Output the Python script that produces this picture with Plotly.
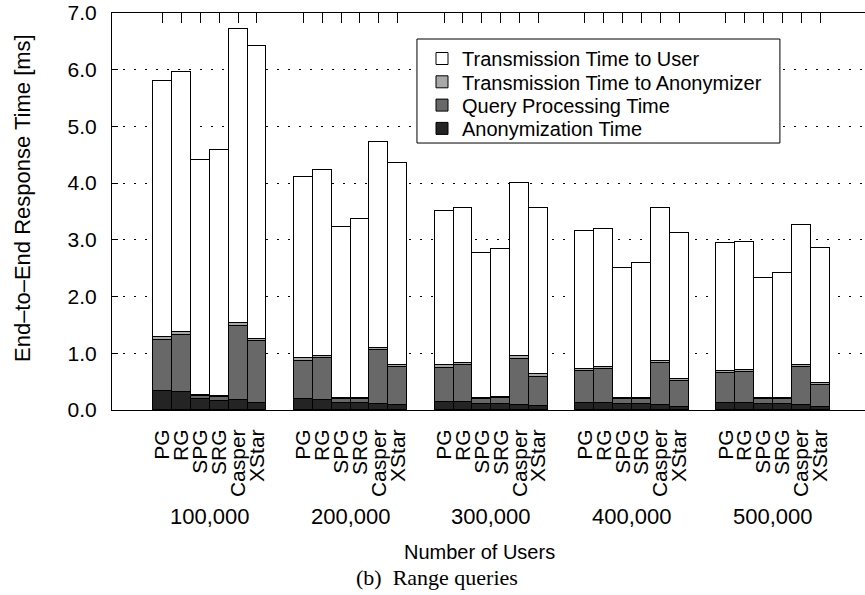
import plotly.graph_objects as go

# ---- data ----
methods = ["PG", "RG", "SPG", "SRG", "Casper", "XStar"]
user_counts = ["100,000", "200,000", "300,000", "400,000", "500,000"]

anonymization_time = [
    [0.34, 0.32, 0.19, 0.15, 0.18, 0.12],
    [0.19, 0.18, 0.12, 0.12, 0.11, 0.08],
    [0.14, 0.14, 0.11, 0.11, 0.09, 0.07],
    [0.12, 0.12, 0.11, 0.11, 0.08, 0.06],
    [0.12, 0.12, 0.11, 0.11, 0.08, 0.06],
]
query_processing_time = [
    [0.89, 1.00, 0.06, 0.08, 1.31, 1.10],
    [0.68, 0.73, 0.08, 0.08, 0.95, 0.67],
    [0.60, 0.65, 0.09, 0.10, 0.81, 0.52],
    [0.56, 0.60, 0.09, 0.09, 0.74, 0.45],
    [0.53, 0.55, 0.08, 0.08, 0.67, 0.38],
]
trans_to_anonymizer = [
    [0.05, 0.05, 0.02, 0.02, 0.04, 0.04],
    [0.04, 0.05, 0.02, 0.02, 0.04, 0.05],
    [0.05, 0.03, 0.02, 0.02, 0.05, 0.04],
    [0.04, 0.03, 0.02, 0.02, 0.04, 0.04],
    [0.04, 0.04, 0.02, 0.02, 0.04, 0.04],
]
trans_to_user = [
    [4.52, 4.59, 4.13, 4.34, 5.19, 5.15],
    [3.20, 3.27, 3.00, 3.15, 3.63, 3.56],
    [2.72, 2.74, 2.54, 2.61, 3.05, 2.93],
    [2.44, 2.45, 2.28, 2.38, 2.71, 2.57],
    [2.25, 2.26, 2.11, 2.21, 2.48, 2.37],
]

# ---- layout helpers ----
GROUP_STEP = 7.45
xpos = [g * GROUP_STEP + i for g in range(len(user_counts)) for i in range(len(methods))]
tick_text = [m for _ in user_counts for m in methods]
group_centers = [g * GROUP_STEP + (len(methods) - 1) / 2 for g in range(len(user_counts))]


def flat(series):
    return [v for grp in series for v in grp]


FONT = "Liberation Sans, Arial, sans-serif"
SERIF = "Liberation Serif, Times New Roman, serif"

# stacked bottom -> top; legend rows listed top -> bottom
series = [
    ("Anonymization Time", anonymization_time, "#242424", "legend4"),
    ("Query Processing Time", query_processing_time, "#686868", "legend3"),
    ("Transmission Time to Anonymizer", trans_to_anonymizer, "#a8a8a8", "legend2"),
    ("Transmission Time to User", trans_to_user, "#ffffff", "legend"),
]

fig = go.Figure()
for name, vals, color, leg in series:
    fig.add_trace(go.Bar(
        x=xpos, y=flat(vals), name=name, width=1.0, legend=leg,
        marker=dict(color=color, line=dict(color="#000000", width=1)),
    ))

annotations = []
for c, lab in zip(group_centers, user_counts):
    annotations.append(dict(x=c, y=-0.2695, xref="x", yref="paper", text=lab,
                            showarrow=False, yanchor="middle",
                            font=dict(family=FONT, size=22, color="black")))
annotations.append(dict(x=0.4887, y=-0.3577, xref="paper", yref="paper",
                        text="Number of Users", showarrow=False, yanchor="middle",
                        font=dict(family=FONT, size=20, color="black")))
annotations.append(dict(x=0.432, y=-0.423, xref="paper", yref="paper",
                        text="(b)  Range queries", showarrow=False, yanchor="middle",
                        font=dict(family=SERIF, size=22, color="black")))
annotations.append(dict(x=-0.1195, y=0.534, xref="paper", yref="paper",
                        text="End–to–End Response Time [ms]", textangle=-90,
                        showarrow=False, xanchor="center", yanchor="middle",
                        font=dict(family=FONT, size=22, color="black")))

# legend frame (white box with black border)
shapes = [dict(type="rect", xref="paper", yref="paper",
               x0=0.405, x1=0.887, y0=0.6725, y1=0.9345,
               fillcolor="white", line=dict(color="black", width=1), layer="above")]

legend_rows_px = [58.5, 81.8, 105.1, 128.4]
plot_top, plot_h = 13, 397


def leg(row_px):
    return dict(x=0.4117, y=1 - (row_px - plot_top) / plot_h, xanchor="left",
                yanchor="middle", bgcolor="rgba(0,0,0,0)", borderwidth=0,
                font=dict(family=FONT, size=20, color="black"))


fig.update_layout(
    width=865, height=595,
    margin=dict(l=112, r=0, t=13, b=185, pad=0),
    barmode="stack", bargap=0,
    plot_bgcolor="white", paper_bgcolor="white",
    font=dict(family=FONT, size=20, color="black"),
    showlegend=True,
    legend=leg(legend_rows_px[0]),
    legend2=leg(legend_rows_px[1]),
    legend3=leg(legend_rows_px[2]),
    legend4=leg(legend_rows_px[3]),
    annotations=annotations,
    shapes=shapes,
)
fig.update_xaxes(
    range=[-2.67, 37.17], tickmode="array", tickvals=xpos, ticktext=tick_text,
    tickangle=-90, ticks="inside", ticklen=10, tickcolor="black",
    showline=True, linecolor="black", linewidth=1, mirror="ticks",
    layer="below traces", showgrid=False, zeroline=False,
    ticklabelstandoff=10, tickfont=dict(family=FONT, size=21, color="black"),
)
fig.update_yaxes(
    range=[0, 7], tickmode="linear", tick0=0, dtick=1, tickformat=".1f",
    ticks="inside", ticklen=6, tickcolor="black",
    showline=True, linecolor="black", linewidth=1,
    showgrid=True, gridcolor="black", gridwidth=1, griddash="2px,9px",
    zeroline=False, ticklabelstandoff=10,
    tickfont=dict(family=FONT, size=21, color="black"),
)

fig.write_html("out.html")
